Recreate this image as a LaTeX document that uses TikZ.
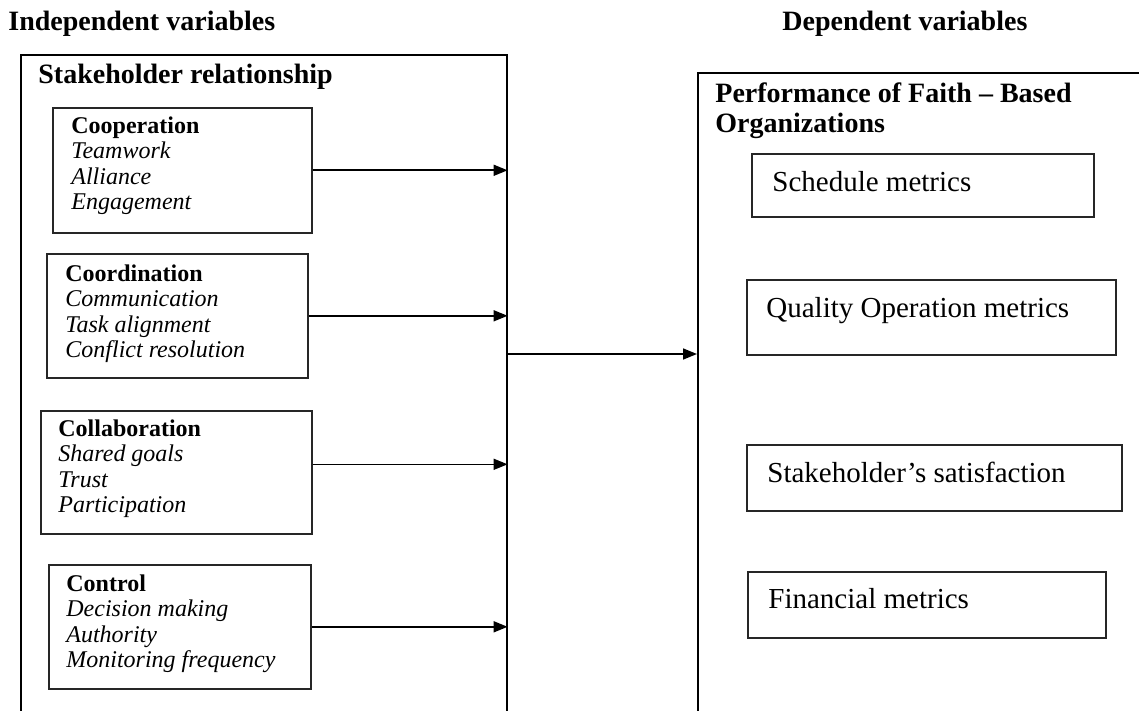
\documentclass[tikz,border=0pt]{standalone}
\usepackage{fontspec}
\setmainfont{Liberation Serif}
\usetikzlibrary{arrows.meta}

\tikzset{
  frame/.style={draw, line width=0.8pt, anchor=north west, inner sep=0pt},
  factor/.style={draw=black!85, line width=0.8pt, anchor=north west, inner sep=0pt},
  items/.style={anchor=north west, inner sep=0pt, align=left, font=\fontsize{12}{12.75}\selectfont},
  heading/.style={inner sep=0pt, align=left, font=\bfseries\fontsize{14}{15}\selectfont},
  metric/.style={anchor=base west, inner sep=0pt, font=\fontsize{14.5}{16}\selectfont},
  link/.style={-{Triangle[length=7pt,width=5.5pt]}, line width=0.8pt},
}

\begin{document}
\begin{tikzpicture}[x=1pt,y=-1pt]
  \useasboundingbox (0,0) rectangle (569.5,355.5);
  \clip (0,0) rectangle (569.5,355.5);

  % Titles
  \node[heading, anchor=base west] (indep-title) at (4,15.5) {Independent variables};
  \node[heading, anchor=base west] (dep-title) at (391,15.5) {Dependent variables};

  \begin{scope} % left column
    \node[frame, minimum width=243pt, minimum height=360pt] (indep) at (10,27) {};
    \node[heading, anchor=base west] (indep-name) at (19,42) {Stakeholder relationship};

    \node[factor, minimum width=129.5pt, minimum height=62.5pt] (coop) at (26,53.5) {};
    \node[items] (coop-txt) at ([xshift=9.5pt,yshift=-4.5pt]coop.north west)
      {\textbf{Cooperation}\\ \textit{Teamwork}\\ \textit{Alliance}\\ \textit{Engagement}};

    \node[factor, minimum width=130.5pt, minimum height=62pt] (coord) at (23,126.5) {};
    \node[items] (coord-txt) at ([xshift=9.5pt,yshift=-5.5pt]coord.north west)
      {\textbf{Coordination}\\ \textit{Communication}\\ \textit{Task alignment}\\ \textit{Conflict resolution}};

    \node[factor, minimum width=135.5pt, minimum height=61.5pt] (coll) at (20,205) {};
    \node[items] (coll-txt) at ([xshift=9pt,yshift=-4.5pt]coll.north west)
      {\textbf{Collaboration}\\ \textit{Shared goals}\\ \textit{Trust}\\ \textit{Participation}};

    \node[factor, minimum width=131pt, minimum height=62pt] (ctrl) at (24,282) {};
    \node[items] (ctrl-txt) at ([xshift=9pt,yshift=-5pt]ctrl.north west)
      {\textbf{Control}\\ \textit{Decision making}\\ \textit{Authority}\\ \textit{Monitoring frequency}};
  \end{scope}

  \begin{scope} % right column
    \node[frame, minimum width=260pt, minimum height=360pt] (dep) at (348.5,36) {};
    \node[heading, anchor=north west] (dep-name) at (357.5,41)
      {Performance of Faith -- Based\\ Organizations};

    \node[factor, minimum width=171pt, minimum height=31.5pt] (sched) at (375.5,76.5) {};
    \node[metric] (sched-txt) at ([xshift=10.5pt,yshift=-19.3pt]sched.north west) {Schedule metrics};

    \node[factor, minimum width=184.5pt, minimum height=37.5pt] (qual) at (373,139.5) {};
    \node[metric] (qual-txt) at ([xshift=10pt,yshift=-19.3pt]qual.north west) {Quality Operation metrics};

    \node[factor, minimum width=187.5pt, minimum height=33pt] (satis) at (373,222) {};
    \node[metric] (satis-txt) at ([xshift=10.5pt,yshift=-19.3pt]satis.north west) {Stakeholder’s satisfaction};

    \node[factor, minimum width=179pt, minimum height=33pt] (fin) at (373.5,285.5) {};
    \node[metric] (fin-txt) at ([xshift=10.5pt,yshift=-18.8pt]fin.north west) {Financial metrics};
  \end{scope}

  % Arrows into the frame
  \draw[link] (coop.east) -- (coop.east -| indep.east);
  \draw[link] (coord.east) -- (coord.east -| indep.east);
  \draw[link] ([yshift=4pt]coll.east) -- ([yshift=4pt]coll.east -| indep.east);
  \draw[link] (ctrl.east) -- (ctrl.east -| indep.east);

  % Main arrow
  \coordinate (hub) at (253,177);
  \draw[link] (hub) -- (hub -| dep.west);
\end{tikzpicture}
\end{document}
